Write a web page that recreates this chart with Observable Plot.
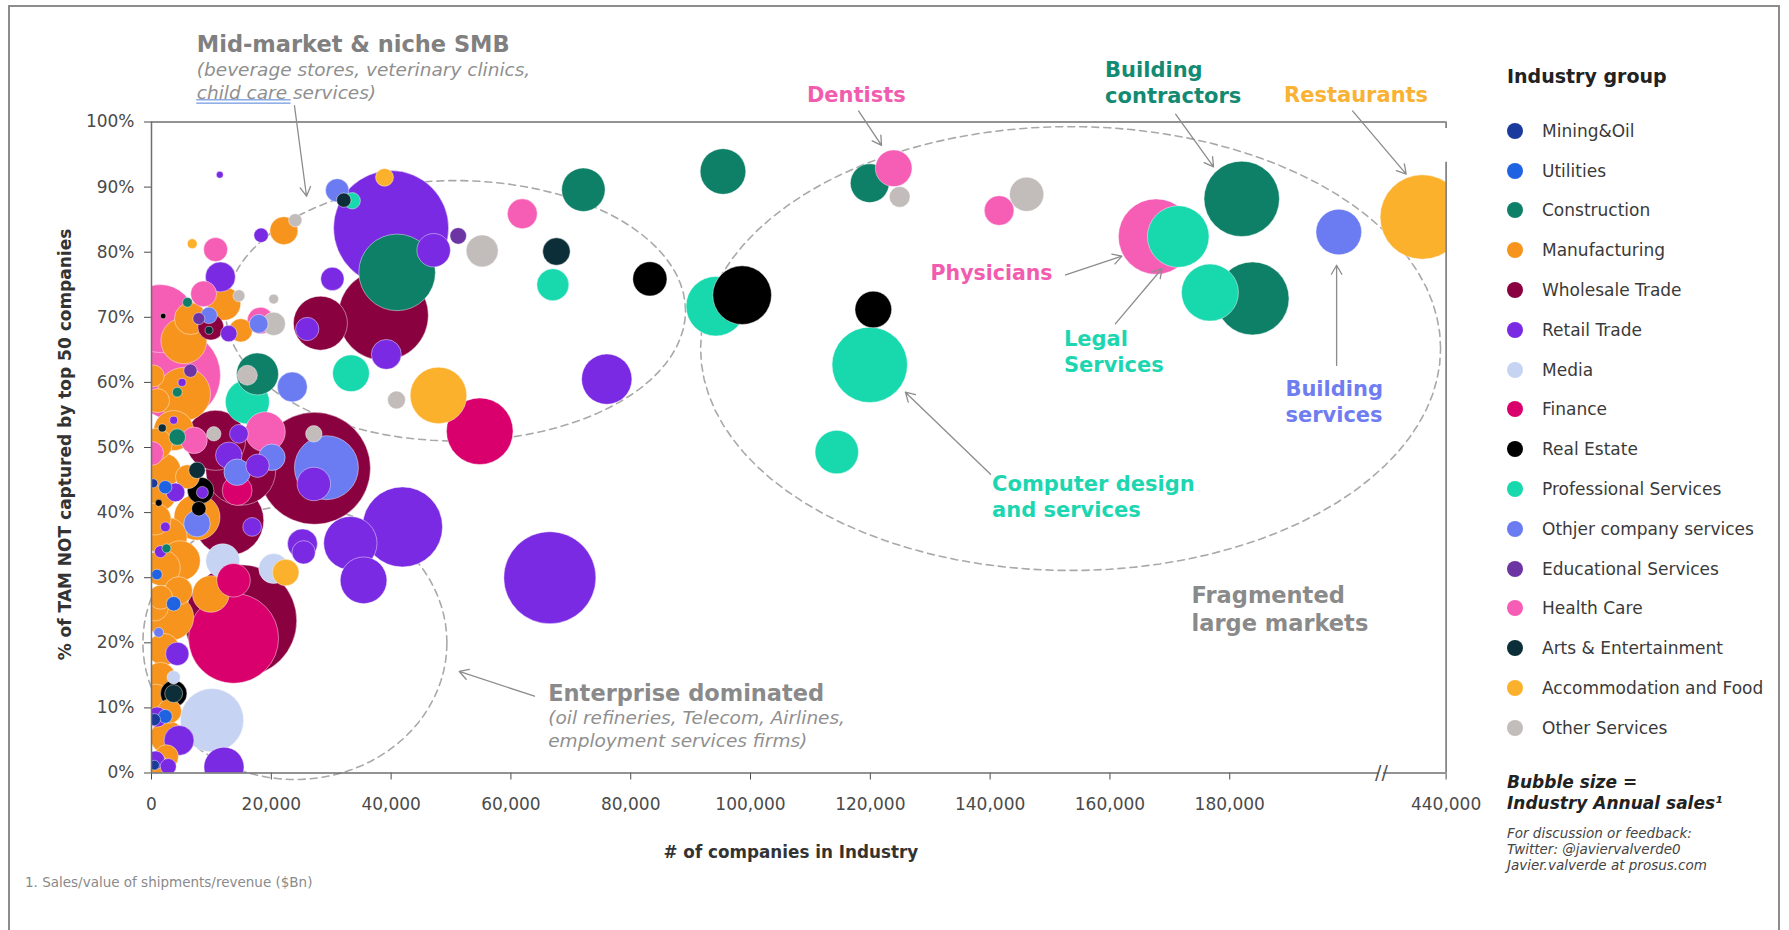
<!DOCTYPE html>
<html>
<head>
<meta charset="utf-8">
<script src="https://cdn.jsdelivr.net/npm/d3@7"></script>
<script src="https://cdn.jsdelivr.net/npm/@observablehq/plot@0.6"></script>
<style>
  body { margin: 0; background: #fff; font-family: "DejaVu Sans", Verdana, sans-serif; }
  #page { position: relative; width: 1789px; height: 930px; overflow: hidden; background: #fff; }
  #frame { position: absolute; left: 8px; top: 5px; width: 1772px; height: 960px; border: 2px solid #8c8c8c; box-sizing: border-box; }
  #chart { position: absolute; left: 0; top: 0; }
  #legend { position: absolute; left: 1507px; top: 64px; color: #3a3a3a; }
  #legend .title { font-weight: bold; font-size: 19px; line-height: 25px; color: #222; margin-bottom: 22px; }
  #legend .row { height: 39.8px; display: flex; align-items: center; font-size: 17px; }
  #legend .dot { width: 16px; height: 16px; border-radius: 50%; margin-right: 19px; flex: none; }
  #bubble { position: absolute; left: 1507px; top: 772px; font-size: 17px; line-height: 20.6px; font-weight: bold; font-style: italic; color: #222; }
  #feedback { position: absolute; left: 1507px; top: 825px; font-size: 13.5px; line-height: 16px; font-style: italic; color: #444; }
  #foot { position: absolute; left: 25px; top: 874px; font-size: 13.5px; color: #8a8a8a; }
</style>
</head>
<body>
<div id="page">
  <div id="frame"></div>
  <div id="chart"></div>
  <div id="legend"></div>
  <div id="bubble">Bubble size =<br>Industry Annual sales¹</div>
  <div id="feedback">For discussion or feedback:<br>Twitter: @javiervalverde0<br>Javier.valverde at prosus.com</div>
  <div id="foot">1. Sales/value of shipments/revenue ($Bn)</div>
</div>
<script>
// ---------- legend / groups ----------
const groups = ["Mining&Oil","Utilities","Construction","Manufacturing","Wholesale Trade","Retail Trade","Media","Finance","Real Estate","Professional Services","Othjer company services","Educational Services","Health Care","Arts & Entertainment","Accommodation and Food","Other Services"];
const groupColors = ["#1b3a9e","#1f63e3","#0f8068","#f7941e","#8a0140","#7a2ae2","#c6d3f2","#d9006d","#000000","#18d8ae","#6b7bf1","#6d34a4","#f65db5","#0c2e38","#fbb12c","#c2bcbb"];

// ---------- bubbles: [# companies, % TAM not captured by top 50, annual sales $Bn] ----------
const miningOil = [[500,8.2,9],[500,1.2,6],[300,44.5,5]];
const utilities = [[2300,43.9,11],[3700,26.0,13],[2300,8.7,12],[900,30.5,7]];
const construction = [[72100,89.6,118],[95400,92.4,130],[119900,90.6,94],[182000,88.2,355],[183800,72.9,333],[41000,76.9,367],[17700,61.3,110],[4300,51.6,17],[4300,58.5,6],[6000,72.3,6],[2500,34.5,5]];
const manufacturing = [[22100,83.3,49],[12100,72.1,70],[14900,68.0,34],[5400,58.2,178],[3700,52.6,100],[2100,46.5,70],[7600,39.3,132],[2600,36.2,100],[5400,66.4,132],[9900,27.5,84],[3200,23.9,132],[1500,14.7,56],[2600,5.5,70],[950,1.4,25],[6500,69.8,64],[1000,57.2,36],[1500,27.0,36],[800,50.5,64],[1200,43.0,81],[600,39.0,64],[1800,31.5,81],[500,25.5,49],[2000,19.0,64],[700,11.5,49],[3000,9.5,36],[4800,32.6,100],[4500,28.0,49],[6000,45.5,36],[300,61.0,30],[2500,2.5,36]];
const wholesale = [[38700,70.3,506],[28200,69.1,182],[27200,46.8,784],[14900,23.4,784],[9900,68.5,42],[10700,51.1,225],[12900,38.8,306],[14900,46.5,306]];
const retail = [[40000,83.7,827],[47100,80.3,70],[76000,60.5,158],[66500,30.0,529],[41900,37.8,400],[33200,35.3,178],[35400,29.6,136],[30200,75.9,34],[18300,82.6,13],[11400,91.9,3],[11500,76.2,56],[39200,64.3,56],[26000,68.2,34],[12900,67.5,17],[27100,44.4,70],[25200,35.2,56],[12900,48.8,44],[17700,47.2,34],[14600,52.1,22],[16800,37.8,22],[8500,43.1,9],[4000,43.1,22],[25400,33.9,34],[4300,18.3,34],[4600,5.0,56],[950,8.6,25],[12100,0.9,100],[5100,60.0,4],[3700,54.2,4],[2300,37.8,6],[1500,34.0,9],[700,2.0,20],[2800,1.0,16]];
const media = [[10100,8.1,251],[20400,31.4,56],[3700,14.7,11],[11900,32.6,72]];
const finance = [[54800,52.5,277],[13700,20.7,506],[13700,29.6,70],[14300,43.4,56]];
const realEstate = [[98600,73.4,215],[83200,75.9,73],[120500,71.2,84],[8200,43.4,44],[7900,40.6,13],[3700,12.2,44],[1950,70.2,2],[1200,41.5,3]];
const professional = [[171400,82.4,237],[176700,73.8,203],[94200,71.7,221],[119900,62.7,355],[114400,49.3,118],[67000,75.0,64],[33300,61.4,84],[16000,57.0,121],[33500,87.9,17]];
const otherCompany = [[198200,83.1,130],[31000,89.5,34],[29200,46.9,256],[23500,59.3,56],[9600,70.3,17],[17900,69.0,22],[20100,48.5,44],[14300,46.2,44],[7600,38.3,44],[1200,21.6,6]];
const educational = [[51200,82.5,17],[7900,69.8,9],[6500,61.8,11]];
const healthCare = [[123900,92.9,84],[61900,85.9,56],[141500,86.4,55],[167700,82.4,355],[1500,69.8,289],[4000,61.1,506],[10700,80.4,36],[8700,73.6,42],[18200,69.5,44],[19000,52.4,100],[7100,51.1,44],[0,49.1,36]];
const arts = [[67600,80.1,47],[32100,88.0,13],[7600,46.5,17],[3700,12.2,20],[9600,68.0,4],[1800,53.0,4]];
const accommodation = [[434300,85.4,445],[47900,58.0,200],[38900,91.5,20],[22400,30.8,44],[6800,81.3,6]];
const otherServices = [[146100,88.9,73],[124900,88.5,27],[55200,80.2,64],[40900,57.3,20],[24000,84.9,11],[14600,73.3,9],[20400,72.8,6],[20400,69.0,34],[16000,61.1,25],[27100,52.1,17],[10400,52.1,13]];

const byGroup = [miningOil, utilities, construction, manufacturing, wholesale, retail, media, finance, realEstate, professional, otherCompany, educational, healthCare, arts, accommodation, otherServices];

// ---------- axes ----------
const xTicks = [0,20000,40000,60000,80000,100000,120000,140000,160000,180000,440000];
const yTicks = [0,10,20,30,40,50,60,70,80,90,100];
const xDomain = [0, 205000, 425000, 440000];   // broken axis
const breakAt = 315000;

// ---------- annotation shapes (dashed ellipses: centre x, centre y, radius x, radius y) ----------
const ellipseCX = [50750, 153430, 23940];
const ellipseCY = [71.0, 65.2, 20.0];
const ellipseRX = [38400, 61770, 25380];
const ellipseRY = [20.0, 34.1, 21.0];

// arrows
const arrowX1 = [23870, 118030, 170960, 200500, 152600, 160900, 197840, 140070, 63940];
const arrowY1 = [102.5, 101.7, 101.2, 101.7, 76.5, 69.0, 62.6, 45.9, 11.8];
const arrowX2 = [25880, 121870, 177300, 430440, 162000, 168700, 197840, 125850, 51370];
const arrowY2 = [88.6, 96.4, 93.1, 92.0, 79.4, 77.5, 78.0, 58.5, 15.6];

// labels
const boldLabels = [
  {text: "Mid-market & niche SMB", x: 7560, y: 112.1, color: "#808080", anchor: "start", size: 22.5},
  {text: "Dentists", x: 117670, y: 104.3, color: "#f25caf", anchor: "middle", size: 21},
  {text: "Building\ncontractors", x: 159190, y: 106.2, color: "#138a72", anchor: "start", size: 21},
  {text: "Restaurants", x: 201090, y: 104.3, color: "#f9b233", anchor: "middle", size: 21},
  {text: "Physicians", x: 130050, y: 77.0, color: "#f25caf", anchor: "start", size: 20.5},
  {text: "Legal\nServices", x: 152320, y: 64.85, color: "#1dd6b0", anchor: "start", size: 21},
  {text: "Building\nservices", x: 189290, y: 57.15, color: "#6f7df0", anchor: "start", size: 21},
  {text: "Computer design\nand services", x: 140320, y: 42.6, color: "#1dd6b0", anchor: "start", size: 21},
  {text: "Fragmented\nlarge markets", x: 173630, y: 25.4, color: "#8a8a8a", anchor: "start", size: 22.5},
  {text: "Enterprise dominated", x: 66230, y: 12.5, color: "#8a8a8a", anchor: "start", size: 22.5}
];
const italicLabels = [
  {text: "(beverage stores, veterinary clinics,\nchild care services)", x: 7560, y: 106.4},
  {text: "(oil refineries, Telecom, Airlines,\nemployment services firms)", x: 66230, y: 6.85}
];
// double underline under "child care"
const underlineX = [7560, 23300];
const underlineY = [103.4, 102.9];

// ---------- build ----------
const bubbles = [];
byGroup.forEach((arr, gi) => arr.forEach(([c, p, s]) => bubbles.push({companies: c, pct: p, sales: s, group: groups[gi]})));
const bubblesSorted = d3.sort(bubbles, (a, b) => d3.descending(a.sales, b.sales));

const W = 1789, H = 930;
const mL = 151, mR = 343.4, mT = 121.5, mB = 157.5;
const xRange = [151, 1379, 1383, 1445.6];
const xs = Plot.scale({x: {type: "linear", domain: xDomain, range: xRange}});
const slope = (xs.apply(20000) - xs.apply(0)) / 20000;

const ellipsePts = [];
ellipseCX.forEach((cx, i) => {
  for (let k = 0; k <= 90; k++) {
    const t = 2 * Math.PI * k / 90;
    const px = xs.apply(cx) + ellipseRX[i] * slope * Math.cos(t);
    ellipsePts.push({id: i, x: xs.invert(px), y: ellipseCY[i] + ellipseRY[i] * Math.sin(t)});
  }
});
const arrows = arrowX1.map((_, i) => ({x1: arrowX1[i], y1: arrowY1[i], x2: arrowX2[i], y2: arrowY2[i]}));
const axisSegs = [{x1: xDomain[0], x2: xDomain[1]}, {x1: xDomain[2], x2: xDomain[3]}];
const underlines = underlineY.map(y => ({y, x1: underlineX[0], x2: underlineX[1]}));

const axisColor = "#6e6e6e";
const marks = [
  Plot.line(ellipsePts, {x: "x", y: "y", z: "id", stroke: "#a9a9a9", strokeWidth: 1.6, strokeDasharray: "7,5"}),
  Plot.dot(bubblesSorted, {x: "companies", y: "pct", r: "sales", fill: "group", stroke: "#ffffff", strokeWidth: 0.8, strokeOpacity: 0.55, clip: true}),
  Plot.ruleX([0], {y1: 0, y2: 100, stroke: axisColor, strokeWidth: 1.5}),
  Plot.ruleY([100], {x1: 0, x2: 440000, stroke: axisColor, strokeWidth: 1.5}),
  Plot.ruleX([440000], {y1: 100, y2: 99, stroke: axisColor, strokeWidth: 1.5}),
  Plot.ruleX([440000], {y1: 0, y2: 93.8, stroke: axisColor, strokeWidth: 1.5}),
  Plot.ruleY(axisSegs, {y: 0, x1: "x1", x2: "x2", stroke: axisColor, strokeWidth: 1.5}),
  Plot.text([breakAt], {x: d => d, y: 0, text: () => "//", fontSize: 19, fill: "#555", fontFamily: "DejaVu Sans"}),
  Plot.arrow(arrows, {x1: "x1", y1: "y1", x2: "x2", y2: "y2", stroke: "#8c8c8c", strokeWidth: 1.3, headLength: 12}),
  Plot.ruleY(underlines, {y: "y", x1: "x1", x2: "x2", stroke: "#4f7fd6", strokeWidth: 1})
];
for (const L of boldLabels) {
  marks.push(Plot.text([L], {x: "x", y: "y", text: "text", fill: L.color, fontWeight: "bold", fontSize: L.size, textAnchor: L.anchor, lineHeight: 1.25, fontFamily: "DejaVu Sans"}));
}
marks.push(Plot.text(italicLabels, {x: "x", y: "y", text: "text", fill: "#8f8f8f", fontStyle: "italic", fontSize: 18.5, textAnchor: "start", lineHeight: 1.23, fontFamily: "DejaVu Sans"}));
marks.push(Plot.text(["% of TAM NOT captured by top 50 companies"], {frameAnchor: "left", textAnchor: "middle", dx: -86, dy: -3, rotate: -90, fontWeight: "bold", fontSize: 17, fill: "#333"}));
marks.push(Plot.text(["# of companies in Industry"], {frameAnchor: "bottom", textAnchor: "middle", dy: 84.5, dx: -8, fontWeight: "bold", fontSize: 16.8, fill: "#333"}));

const chart = Plot.plot({
  width: W, height: H,
  marginLeft: mL, marginRight: mR, marginTop: mT, marginBottom: mB,
  style: {fontFamily: "DejaVu Sans", fontSize: "17px", color: "#4a4a4a", background: "transparent", overflow: "visible"},
  x: {type: "linear", domain: xDomain, range: xRange, ticks: xTicks, tickFormat: d3.format(","), tickSize: 7, tickPadding: 18, label: null},
  y: {domain: [0, 100], ticks: yTicks, tickFormat: d => d + "%", tickSize: 7, tickPadding: 10, label: null},
  r: {type: "sqrt", domain: [0, 1000], range: [0, 63.25]},
  color: {domain: groups, range: groupColors},
  marks
});
document.getElementById("chart").appendChild(chart);

// HTML legend
const leg = document.getElementById("legend");
const t = document.createElement("div"); t.className = "title"; t.textContent = "Industry group"; leg.appendChild(t);
groups.forEach((g, i) => {
  const row = document.createElement("div"); row.className = "row";
  const dot = document.createElement("span"); dot.className = "dot"; dot.style.background = groupColors[i];
  const lab = document.createElement("span"); lab.textContent = g;
  row.appendChild(dot); row.appendChild(lab); leg.appendChild(row);
});
</script>
</body>
</html>
